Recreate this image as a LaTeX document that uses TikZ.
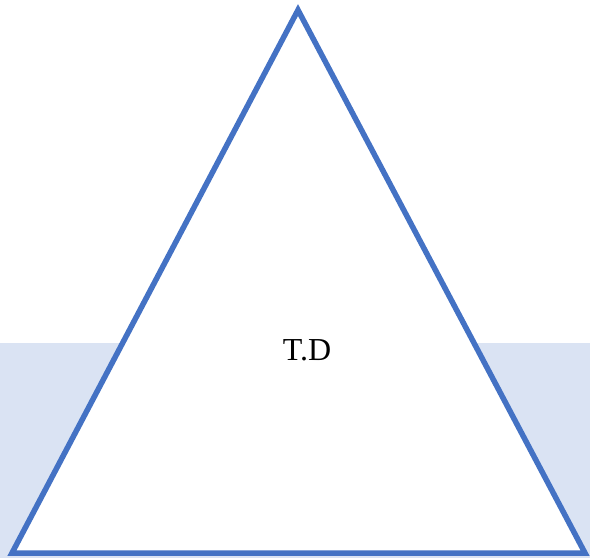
\documentclass[tikz,border=0pt]{standalone}
\usepackage{fontspec}
\setmainfont{Liberation Serif}
\definecolor{tri}{HTML}{4472C4}
\definecolor{band}{HTML}{DAE3F3}
\begin{document}
\begin{tikzpicture}[x=1pt,y=-1pt,
  trianglestyle/.style={draw=tri,line width=5.5pt,fill=white,line join=miter},
  labelstyle/.style={font=\fontsize{32}{36}\selectfont,inner sep=0pt}]
\useasboundingbox (0,0) rectangle (590,558);
\fill[band] (0,343) rectangle (590,558);
\coordinate (apex) at (298,10);
\coordinate (bl) at (12,553);
\coordinate (br) at (585,553);
\draw[trianglestyle] (apex) -- (bl) -- (br) -- cycle;
\node[labelstyle,anchor=base] (td) at (307,360) {T.D};
\end{tikzpicture}
\end{document}
